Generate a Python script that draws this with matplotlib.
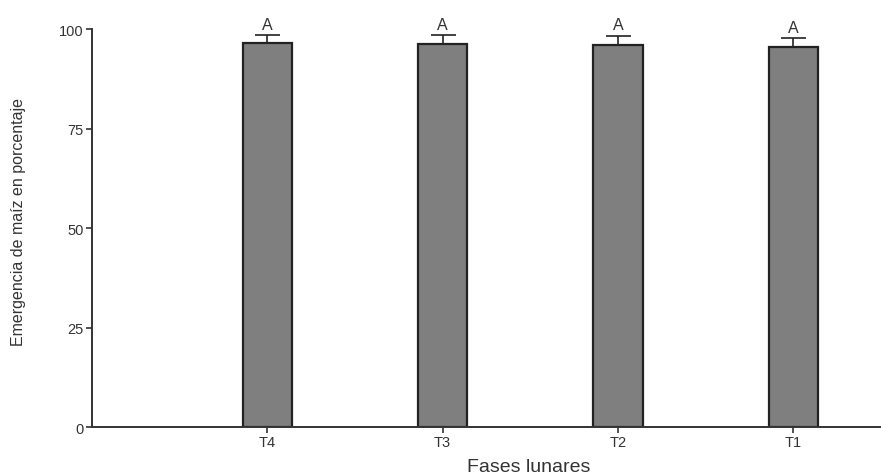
import matplotlib
matplotlib.use("Agg")
import matplotlib.pyplot as plt
import numpy as np

plt.rcParams["font.family"] = ["Liberation Sans", "DejaVu Sans"]

categorias = ["T4", "T3", "T2", "T1"]
emergencia = [96.6, 96.4, 96.0, 95.6]
error_sup = [2.0, 2.1, 2.4, 2.1]
letras = ["A", "A", "A", "A"]

fig = plt.figure(figsize=(8.81, 4.77), dpi=100)
ax = fig.add_axes([0.1044, 0.1027, 0.8956, 0.834])

x = np.arange(1, len(categorias) + 1)
ax.bar(x, emergencia, width=0.28, color="#7f7f7f", edgecolor="#222222", linewidth=1.6, zorder=2)
ax.errorbar(x, emergencia, yerr=[np.zeros(len(x)), error_sup], fmt="none",
            ecolor="#222222", elinewidth=1.2, capsize=9, capthick=1.2, zorder=1)

for xi, m, e, l in zip(x, emergencia, error_sup, letras):
    ax.text(xi, m + e + 0.8, l, ha="center", va="bottom", fontsize=11.5, color="#333333")

ax.set_xlim(0, 4.5)
ax.set_ylim(0, 100)
ax.set_yticks([0, 25, 50, 75, 100])
ax.set_xticks(x)
ax.set_xticklabels(categorias)

for s in ["top", "right"]:
    ax.spines[s].set_visible(False)
for s in ["left", "bottom"]:
    ax.spines[s].set_color("#333333")
    ax.spines[s].set_linewidth(1.4)

ax.tick_params(axis="both", colors="#333333", labelsize=10.5, length=4, width=1.2, pad=2)
ax.set_ylabel("Emergencia de maíz en porcentaje", fontsize=11.5, color="#333333")
ax.yaxis.set_label_coords(-0.084, 0.518)
ax.set_xlabel("Fases lunares", fontsize=14, color="#333333")
ax.xaxis.set_label_coords(0.554, -0.078)

fig.savefig("out.png", dpi=100)
